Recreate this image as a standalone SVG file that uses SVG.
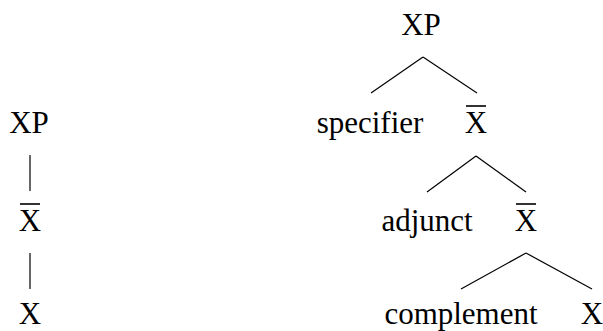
<svg xmlns="http://www.w3.org/2000/svg" width="603" height="331" viewBox="0 0 603 331">
<style>
text{font-family:"Liberation Serif","DejaVu Serif",serif;font-size:31px;fill:#000;text-anchor:middle}
line{stroke:#000;stroke-width:1.2;fill:none}
.bar{stroke-width:1.6}
</style>
<rect width="603" height="331" fill="#fff"/>
<g id="left-XP"><text x="29" y="133">XP</text></g>
<g id="left-Xbar"><text x="30" y="231">X</text><line class="bar" x1="20" y1="204" x2="40" y2="204"/></g>
<g id="left-X"><text x="30" y="324">X</text></g>
<g id="right-XP"><text x="421" y="35">XP</text></g>
<g id="specifier"><text x="370" y="133">specifier</text></g>
<g id="Xbar1"><text x="476" y="133">X</text><line class="bar" x1="466" y1="106" x2="486" y2="106"/></g>
<g id="adjunct"><text x="427" y="231">adjunct</text></g>
<g id="Xbar2"><text x="526" y="231">X</text><line class="bar" x1="516" y1="204" x2="536" y2="204"/></g>
<g id="complement"><text x="461" y="324">complement</text></g>
<g id="X"><text x="592" y="324">X</text></g>
<g id="connectors">
<line x1="30" y1="155" x2="30" y2="191"/>
<line x1="30" y1="253" x2="30" y2="289"/>
<line x1="423" y1="57" x2="371" y2="93"/>
<line x1="423" y1="57" x2="477" y2="93"/>
<line x1="476" y1="156" x2="427" y2="192"/>
<line x1="476" y1="156" x2="526" y2="192"/>
<line x1="526" y1="253" x2="461" y2="289"/>
<line x1="526" y1="253" x2="592" y2="289"/>
</g>
</svg>
